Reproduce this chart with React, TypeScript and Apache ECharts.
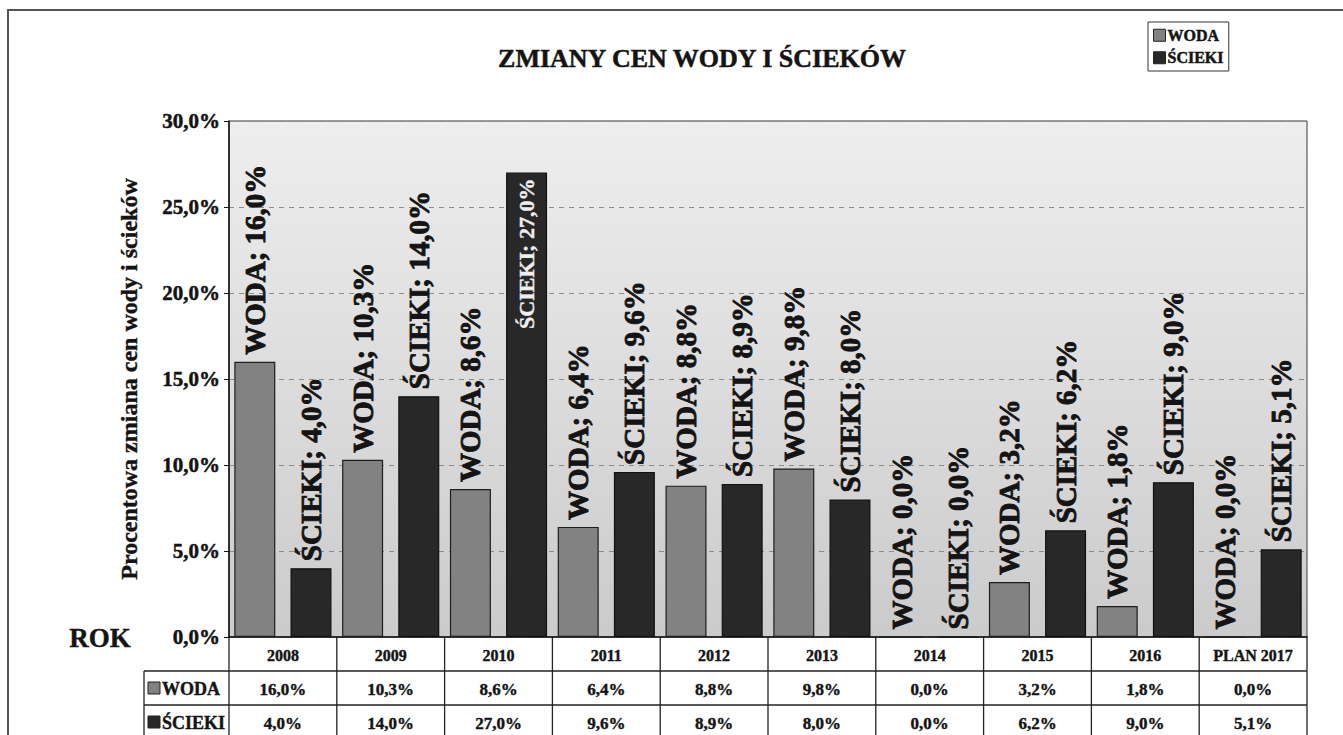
import React, { useEffect, useRef } from "react";
import * as echarts from "echarts";

const years = ["2008", "2009", "2010", "2011", "2012", "2013", "2014", "2015", "2016", "PLAN 2017"];
const woda = [16.0, 10.3, 8.6, 6.4, 8.8, 9.8, 0.0, 3.2, 1.8, 0.0];
const scieki = [4.0, 14.0, 27.0, 9.6, 8.9, 8.0, 0.0, 6.2, 9.0, 5.1];
const seriesNames = ["WODA", "ŚCIEKI"];
const yTicks = { min: 0, max: 30, interval: 5 };

const SERIF = "'Liberation Serif', 'Times New Roman', serif";
const INK = "#141414";
const WODA_COLOR = "#828282";
const SCIEKI_COLOR = "#282828";

const fmt = (v: number) => v.toFixed(1).replace(".", ",") + "%";

export default function App() {
  const ref = useRef<HTMLDivElement>(null);
  useEffect(() => {
    if (!ref.current) return;
    const chart = echarts.init(ref.current, null, { renderer: "svg" });
    const labelBase = {
      show: true,
      position: "top",
      rotate: 90,
      align: "left",
      verticalAlign: "middle",
      distance: 7,
      fontFamily: SERIF,
      fontWeight: "bold",
      fontSize: 29,
      color: INK,
      textBorderColor: INK,
      textBorderWidth: 0.9,
      formatter: (p: any) => `${p.seriesName}; ${fmt(p.value)}`,
    };
    const sciekiData = scieki.map((v) =>
      v > 20
        ? {
            value: v,
            label: {
              position: "insideTop",
              align: "right",
              color: "#eeeeee",
              textBorderColor: "#eeeeee",
              textBorderWidth: 0.4,
              fontSize: 22,
              distance: 6,
            },
          }
        : v
    );
    const option: any = {
      animation: false,
      backgroundColor: "#ffffff",
      title: {
        text: "ZMIANY CEN WODY I ŚCIEKÓW",
        left: 697,
        textAlign: "center",
        top: 40,
        textStyle: {
          fontFamily: SERIF,
          fontWeight: "bold",
          fontSize: 26,
          color: INK,
          textBorderColor: INK,
          textBorderWidth: 0.5,
        },
      },
      legend: {
        orient: "vertical",
        left: 1148,
        top: 22,
        itemWidth: 12,
        itemHeight: 12,
        itemGap: 6,
        padding: [5, 5, 5, 5],
        borderColor: "#333",
        borderWidth: 1,
        icon: "rect",
        selectedMode: false,
        itemStyle: { borderColor: "#222", borderWidth: 1 },
        textStyle: {
          fontFamily: SERIF,
          fontWeight: "bold",
          fontSize: 16,
          color: INK,
          textBorderColor: INK,
          textBorderWidth: 0.5,
          padding: [0, 0, 0, -3],
        },
        data: seriesNames,
      },
      grid: {
        left: 229,
        right: 36,
        top: 121,
        bottom: 98,
        show: true,
        borderColor: "#3a3a3a",
        borderWidth: 1,
        backgroundColor: new echarts.graphic.LinearGradient(0, 0, 0, 1, [
          { offset: 0, color: "#eeeeee" },
          { offset: 1, color: "#cbcbcb" },
        ]),
      },
      xAxis: {
        type: "category",
        data: years,
        axisLabel: { show: false },
        axisTick: { show: false },
        axisLine: { lineStyle: { color: "#111", width: 1.5 } },
      },
      yAxis: {
        type: "value",
        min: yTicks.min,
        max: yTicks.max,
        interval: yTicks.interval,
        name: "Procentowa zmiana cen wody i ścieków",
        nameLocation: "middle",
        nameGap: 88,
        nameTextStyle: {
          fontFamily: SERIF,
          fontWeight: "bold",
          fontSize: 24,
          color: INK,
          textBorderColor: INK,
          textBorderWidth: 0.4,
        },
        axisLine: { show: true, lineStyle: { color: "#111", width: 1.5 } },
        axisTick: { show: true, length: 5, lineStyle: { color: "#111" } },
        axisLabel: {
          formatter: (v: number) => fmt(v),
          fontFamily: SERIF,
          fontWeight: "bold",
          fontSize: 21,
          color: INK,
          textBorderColor: INK,
          textBorderWidth: 0.5,
          margin: 9,
        },
        splitLine: { lineStyle: { color: "#8c8c8c", type: [5, 5], width: 1 } },
      },
      series: [
        {
          name: seriesNames[0],
          type: "bar",
          data: woda,
          barWidth: 41,
          barGap: "37%",
          itemStyle: { color: WODA_COLOR, borderColor: "#1e1e1e", borderWidth: 1.2 },
          label: labelBase,
        },
        {
          name: seriesNames[1],
          type: "bar",
          data: sciekiData,
          barWidth: 41,
          itemStyle: { color: SCIEKI_COLOR, borderColor: "#111", borderWidth: 1.2 },
          label: labelBase,
        },
      ],
    };
    chart.setOption(option);

    // Build the data table below the plot from the axis scale
    const xs = years.map((_, i) => chart.convertToPixel({ xAxisIndex: 0 }, i) as number);
    const step = xs[1] - xs[0];
    const left = xs[0] - step / 2;
    const right = xs[xs.length - 1] + step / 2;
    const y0 = chart.convertToPixel({ yAxisIndex: 0 }, 0) as number;
    const rowH = 34;
    const labLeft = left - 85;
    const lineStyle = { stroke: "#222", lineWidth: 1.3 };
    const els: any[] = [];
    els.push({
      type: "rect",
      shape: { x: 8, y: 10, width: 1340, height: 740 },
      style: { fill: "none", stroke: "#555", lineWidth: 2 },
      silent: true,
      z: 0,
    });
    for (let r = 1; r <= 3; r++) {
      els.push({
        type: "line",
        shape: { x1: labLeft, y1: y0 + r * rowH, x2: right, y2: y0 + r * rowH },
        style: lineStyle,
      });
    }
    for (let i = 0; i <= years.length; i++) {
      const x = left + i * step;
      els.push({ type: "line", shape: { x1: x, y1: y0, x2: x, y2: y0 + 3 * rowH }, style: lineStyle });
    }
    els.push({ type: "line", shape: { x1: labLeft, y1: y0 + rowH, x2: labLeft, y2: y0 + 3 * rowH }, style: lineStyle });
    const textStyle = (size: number) => ({
      fontFamily: SERIF,
      fontWeight: "bold",
      fontSize: size,
      fill: INK,
      stroke: INK,
      lineWidth: 0.4,
      align: "center",
      verticalAlign: "middle",
    });
    years.forEach((y, i) => {
      els.push({ type: "text", x: xs[i], y: y0 + rowH / 2 + 1, style: { ...textStyle(16), text: y } });
      els.push({ type: "text", x: xs[i], y: y0 + rowH * 1.5 + 1, style: { ...textStyle(17), text: fmt(woda[i]) } });
      els.push({ type: "text", x: xs[i], y: y0 + rowH * 2.5 + 1, style: { ...textStyle(17), text: fmt(scieki[i]) } });
    });
    [WODA_COLOR, SCIEKI_COLOR].forEach((c, r) => {
      const cy = y0 + rowH * (1.5 + r);
      els.push({
        type: "rect",
        shape: { x: labLeft + 4, y: cy - 6, width: 12, height: 12 },
        style: { fill: c, stroke: "#222", lineWidth: 1 },
      });
      els.push({
        type: "text",
        x: labLeft + 18,
        y: cy + 1,
        style: { ...textStyle(18), align: "left", text: seriesNames[r] },
      });
    });
    els.push({
      type: "text",
      x: 100,
      y: y0 + 1,
      style: { ...textStyle(27), text: "ROK" },
    });
    chart.setOption({ graphic: els });

    return () => chart.dispose();
  }, []);
  return (
    <div
      ref={ref}
      style={{ position: "fixed", left: 0, top: 0, width: 1343, height: 735, background: "#fff" }}
    />
  );
}
